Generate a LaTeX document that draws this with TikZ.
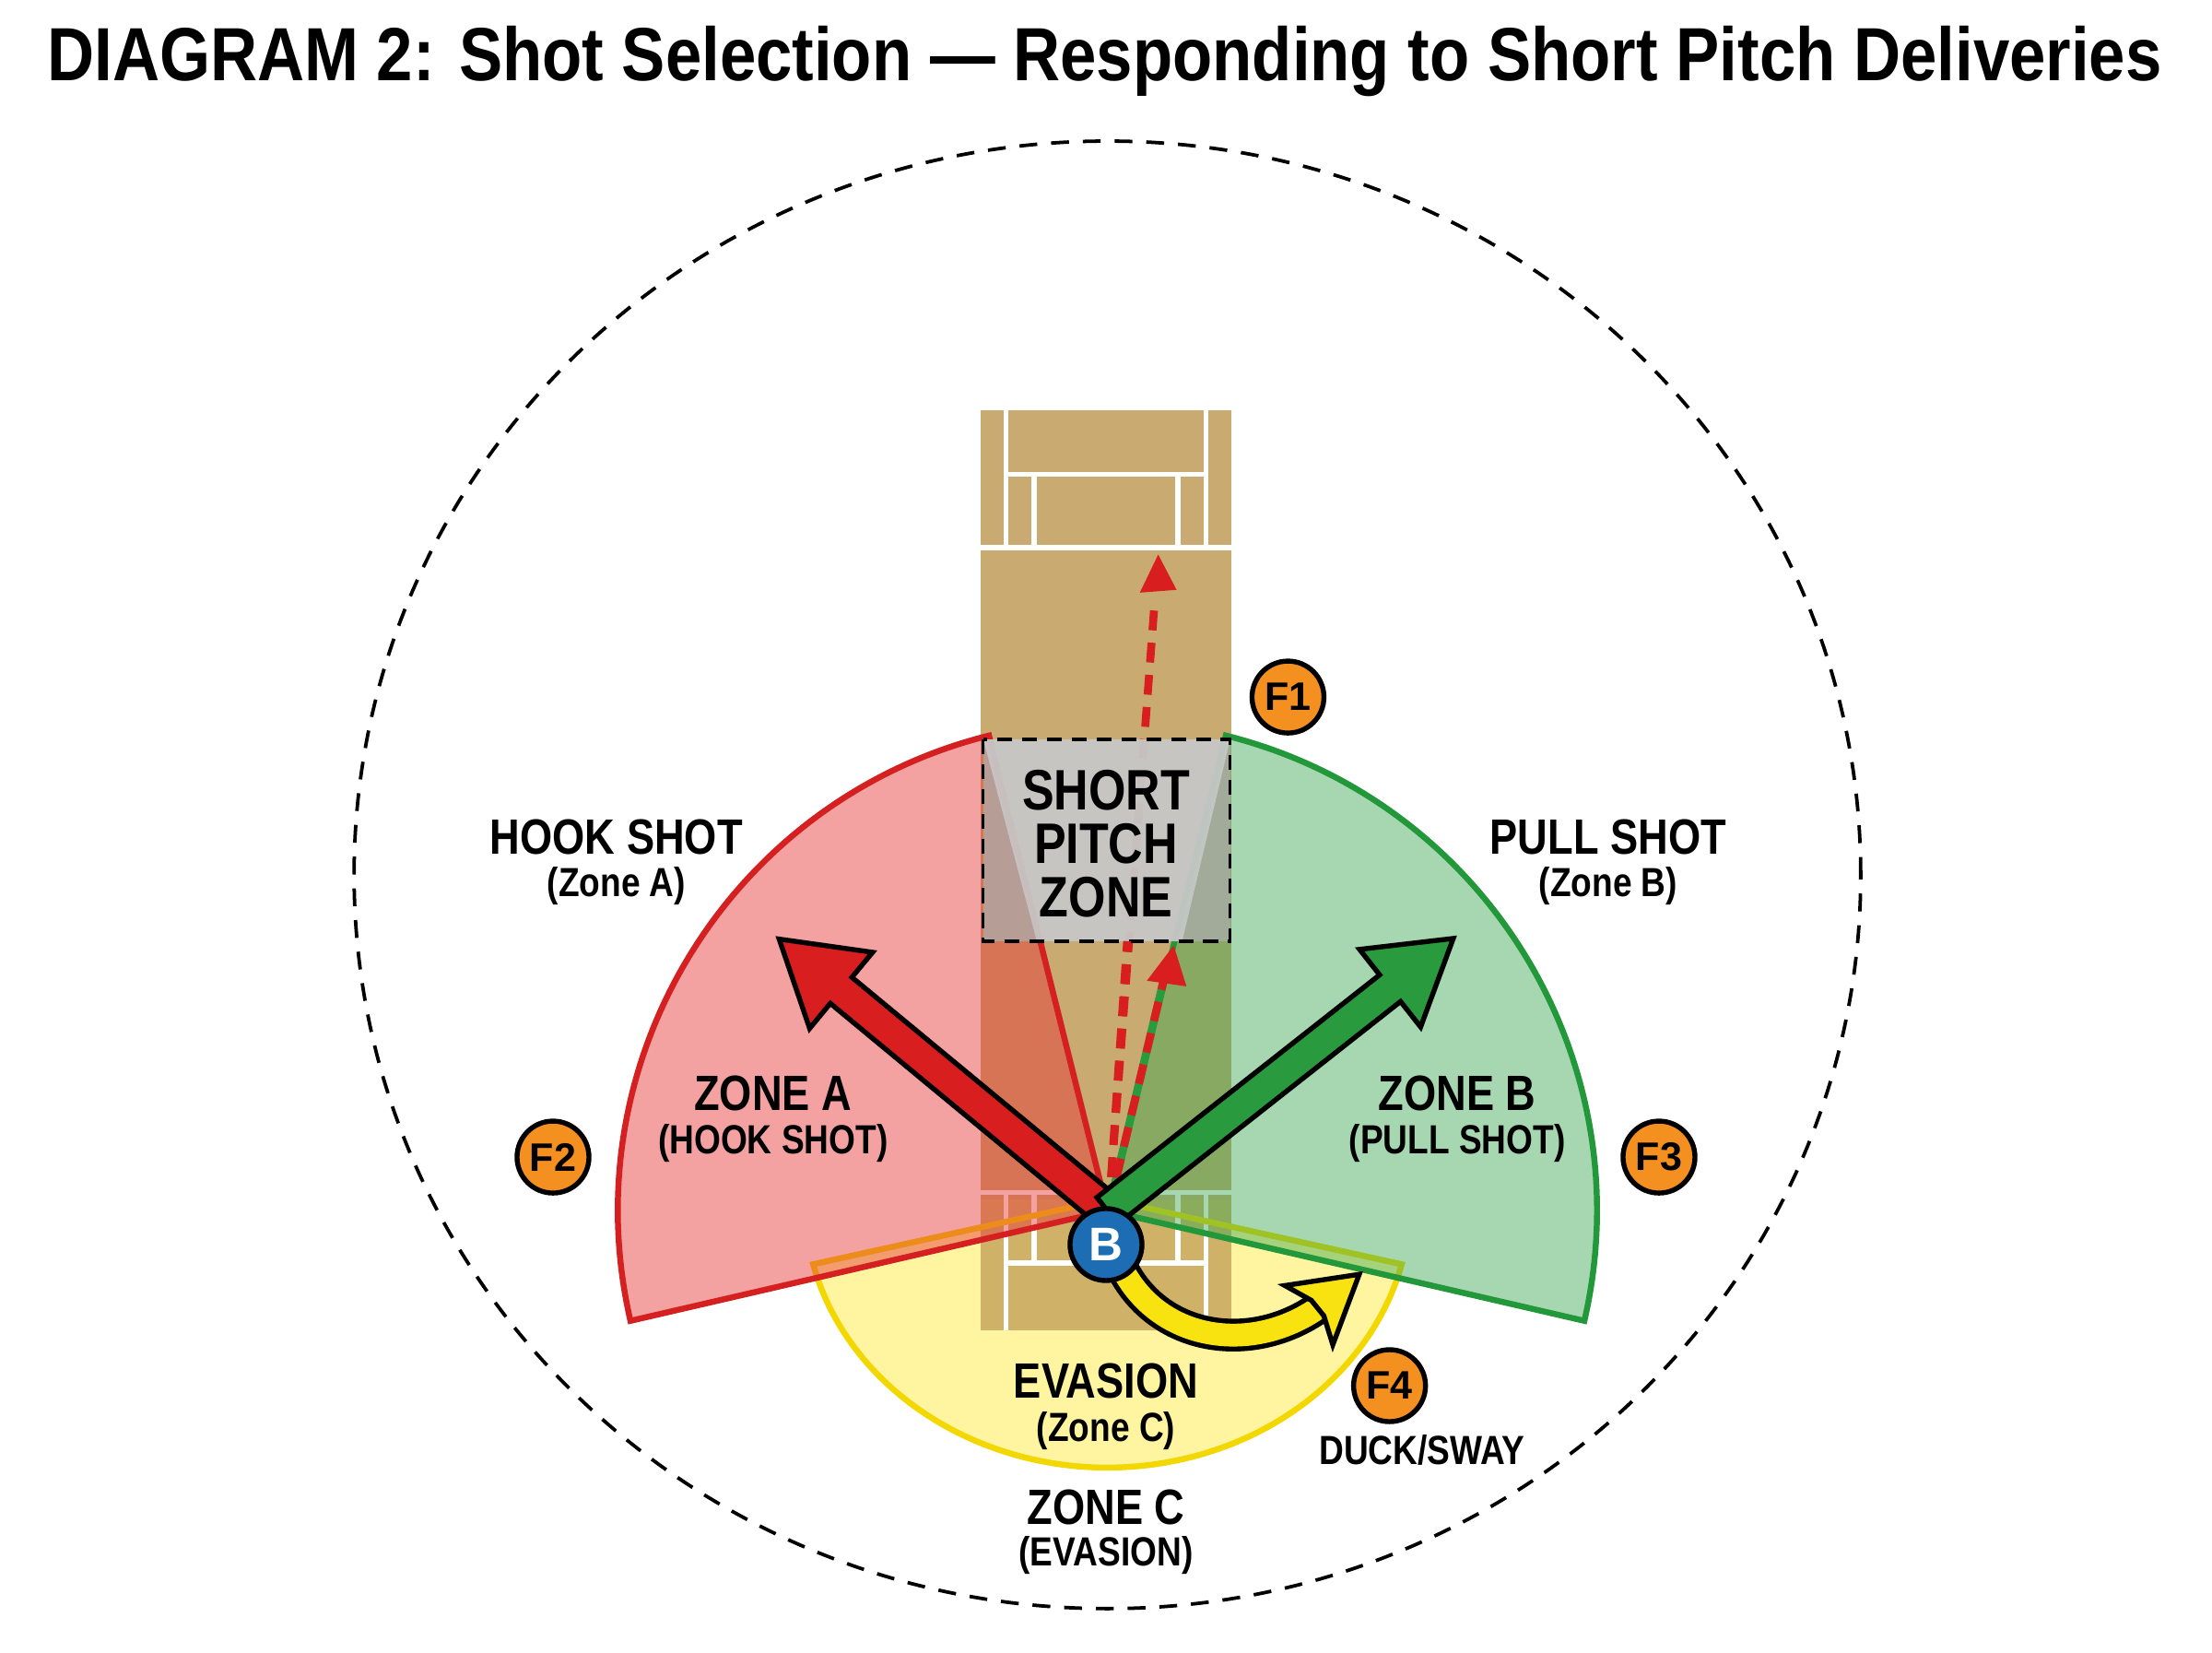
\documentclass[tikz,border=0pt]{standalone}
\usepackage{fontspec}
\setmainfont{Liberation Sans}
\usetikzlibrary{calc}
\begin{document}
\begin{tikzpicture}[x=0.01cm,y=0.01cm,
  lbl/.style={font=\bfseries\fontsize{10}{11}\selectfont, xscale=0.84, transform shape, inner sep=0pt},
  sub/.style={font=\bfseries\fontsize{8.2}{9}\selectfont, xscale=0.84, transform shape, inner sep=0pt},
  crease/.style={white, line width=1pt},
  fielder/.style={circle, fill=fOr, draw=black, line width=1pt, minimum size=14.5pt, inner sep=0pt, font=\bfseries\fontsize{8}{9}\selectfont},
  fat/.style={draw=black, line width=1pt, line join=miter}]
\definecolor{pitch}{HTML}{C9AA70}
\definecolor{zred}{HTML}{E63838}
\definecolor{zredb}{HTML}{D42020}
\definecolor{zgreen}{HTML}{3AA850}
\definecolor{zgreenb}{HTML}{22983A}
\definecolor{zyel}{HTML}{FFE930}
\definecolor{zyelb}{HTML}{F2D800}
\definecolor{fOr}{HTML}{F39020}
\definecolor{bBlue}{HTML}{1C6DB3}
\definecolor{aRed}{HTML}{D81E1E}
\definecolor{aGreen}{HTML}{2A9A3E}
\definecolor{aYel}{HTML}{F8E210}
\useasboundingbox (0,0) rectangle (1568,-1171);
\fill[white] (0,0) rectangle (1568,-1171);
% title
\node[inner sep=0pt, anchor=north] (title) at (783,-18) {\resizebox*{14.98cm}{0.5cm}{\bfseries DIAGRAM 2: Shot Selection — Responding to Short Pitch Deliveries}};
% boundary
\draw[dash pattern=on 3.6pt off 2.8pt, line width=0.7pt] (785,-620) ellipse [x radius=534, y radius=520];
% evasion zone fill (under pitch)
\fill[zyel, fill opacity=0.45]
  (785,-850) -- ++(194:215 and 190) arc[start angle=194, end angle=346, x radius=215, y radius=190] -- cycle;
% pitch
\fill[pitch] (695,-291) rectangle (873,-943);
\fill[zyel, fill opacity=0.12] (695,-850) rectangle (873,-943);
\draw[crease] (695,-388) -- (873,-388);
\draw[crease] (713,-336) -- (855,-336);
\draw[crease] (713,-291) -- (713,-388) (855,-291) -- (855,-388);
\draw[crease] (733,-336) -- (733,-388) (835,-336) -- (835,-388);
\draw[crease] (695,-845) -- (873,-845);
\draw[crease] (713,-895) -- (855,-895);
\draw[crease] (713,-845) -- (713,-943) (855,-845) -- (855,-943);
\draw[crease] (733,-845) -- (733,-895) (835,-845) -- (835,-895);
% zones
\draw[zyelb, line width=1.2pt]
  (785,-850) -- ++(194:215 and 190) arc[start angle=194, end angle=346, x radius=215, y radius=190] -- cycle;
\filldraw[fill=zred, fill opacity=0.47, draw=zredb, line width=1.2pt]
  (785,-858) -- ++(104:347) arc[start angle=104, end angle=193, radius=347] -- cycle;
\filldraw[fill=zgreen, fill opacity=0.45, draw=zgreenb, line width=1.2pt]
  (785,-858) -- ++(76:347) arc[start angle=76, end angle=-13, radius=347] -- cycle;
% dashed trajectories
\coordinate (bt) at (786,-857);
\coordinate (t1) at (821,-393);
\coordinate (t2) at (832,-670);
\draw[aRed, line width=1.6pt, dash pattern=on 4pt off 2.5pt] (bt) -- ($(bt)!0.93!(t1)$);
% short pitch zone
\fill[gray!65, fill opacity=0.75] (697,-524) rectangle (872,-667);
\fill[gray!40, fill opacity=0.8] (697,-524) -- (872,-524) -- (838,-667) -- (735,-667) -- cycle;
\draw[dash pattern=on 3pt off 2pt, line width=0.6pt] (697,-524) rectangle (872,-667);
\node[font=\bfseries\fontsize{11.5}{10.8}\selectfont, align=center, xscale=0.84, transform shape] (spz) at (784,-598) {SHORT\\PITCH\\ZONE};
% arrow heads of dashed lines
\fill[aRed] (t1) -- (808,-420) -- (834,-418) -- cycle;
\draw[aGreen, line width=1.6pt] (bt) -- (826,-690);
\draw[aRed, line width=1.6pt, dash pattern=on 4pt off 2.5pt] (bt) -- (826,-690);
\fill[aRed] (t2) -- (813,-695) -- (841,-699) -- cycle;
\draw[aRed, line width=1.6pt, dash pattern=on 4pt off 2.5pt] (bt) -- (799,-667);
% fat arrows
\begin{scope}[shift={(785,-858)}, rotate=140.4]
  \filldraw[fill=aRed, fat] (0,-12) -- (245,-12) -- (245,-35) -- (302,0) -- (245,35) -- (245,12) -- (0,12) -- cycle;
\end{scope}
\begin{scope}[shift={(785,-858)}, rotate=38.2]
  \filldraw[fill=aGreen, fat] (0,-12) -- (255,-12) -- (255,-35) -- (312,0) -- (255,35) -- (255,12) -- (0,12) -- cycle;
\end{scope}
% evasion arrow
\draw[black, line width=6.6pt] (795,-898) .. controls (822,-952) and (890,-960) .. (937,-925);
\draw[aYel, line width=4.6pt] (795,-898) .. controls (822,-952) and (890,-960) .. (937,-925);
\begin{scope}[shift={(934,-927)}, rotate=39]
  \filldraw[fill=aYel, fat] (0,-7) -- (-8,-27) -- (38,0) -- (-8,27) -- (0,7) -- cycle;
\end{scope}
% batsman
\node[circle, fill=bBlue, draw=black, line width=1pt, minimum size=14.5pt, inner sep=0pt, text=white, font=\bfseries\fontsize{9.5}{9}\selectfont] (B) at (784,-882) {B};
% fielders
\node[fielder] (F1) at (913,-494) {F1};
\node[fielder] (F2) at (392,-820) {F2};
\node[fielder] (F3) at (1176,-820) {F3};
\node[fielder] (F4) at (985,-982) {F4};
% labels
\node[lbl] (hs) at (437,-593) {HOOK SHOT};
\node[sub] (hsz) at (437,-628) {(Zone A)};
\node[lbl] (ps) at (1140,-593) {PULL SHOT};
\node[sub] (psz) at (1140,-628) {(Zone B)};
\node[lbl] (za) at (548,-775) {ZONE A};
\node[sub] (zah) at (548,-810) {(HOOK SHOT)};
\node[lbl] (zb) at (1033,-775) {ZONE B};
\node[sub] (zbp) at (1033,-810) {(PULL SHOT)};
\node[lbl] (ev) at (784,-979) {EVASION};
\node[sub] (evz) at (784,-1014) {(Zone C)};
\node[lbl] (zc) at (784,-1068) {ZONE C};
\node[sub] (zce) at (784,-1102) {(EVASION)};
\node[sub] (ds) at (1008,-1028) {DUCK/SWAY};
\end{tikzpicture}
\end{document}
